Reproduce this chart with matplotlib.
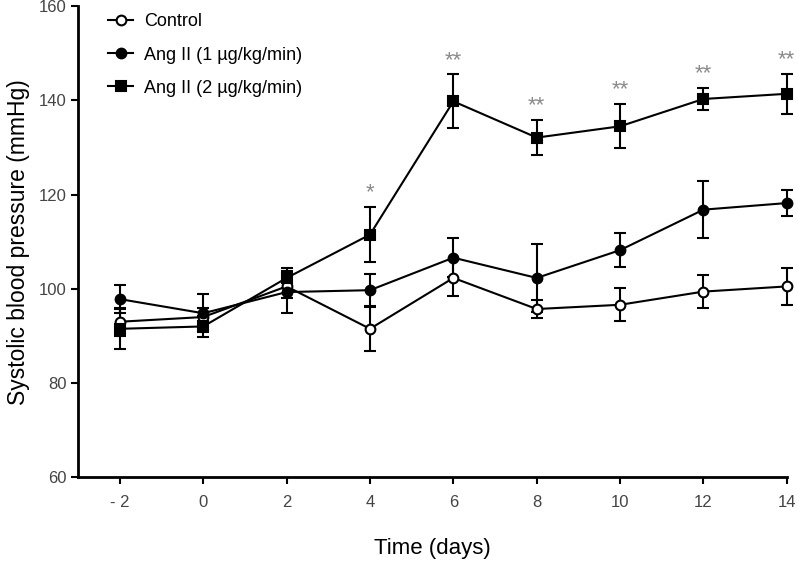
import numpy as np
import matplotlib.pyplot as plt
from matplotlib.lines import Line2D

plt.rcParams['font.family'] = ['Liberation Sans', 'DejaVu Sans']

# Dias y valores (mmHg)
days = [-2, 0, 2, 4, 6, 8, 10, 12, 14]

control = [93.0, 94.0, 100.5, 91.5, 102.3, 95.7, 96.6, 99.4, 100.5]
control_err = [3.0, 2.0, 2.5, 4.8, 3.8, 2.0, 3.5, 3.5, 4.0]

ang1 = [97.8, 94.8, 99.3, 99.7, 106.6, 102.3, 108.2, 116.8, 118.2]
ang1_err = [3.0, 4.0, 4.5, 3.5, 4.2, 7.3, 3.6, 6.0, 2.8]

ang2 = [91.5, 92.0, 102.3, 111.5, 139.8, 132.1, 134.5, 140.3, 141.4]
ang2_err = [4.2, 2.3, 2.2, 5.8, 5.7, 3.8, 4.7, 2.3, 4.2]

# Significancia sobre la serie Ang II (2)
sig_days = [4, 6, 8, 10, 12, 14]
sig_labels = ['*', '**', '**', '**', '**', '**']

fig = plt.figure(figsize=(7.98, 5.64), dpi=100)
ax = fig.add_axes([0.098, 0.154, 0.888, 0.835])

common = dict(color='black', lw=1.5, capsize=4, capthick=1.5, elinewidth=1.5, markersize=7)
series = [
    (control, control_err, 'o', 'white', 'Control'),
    (ang1, ang1_err, 'o', 'black', 'Ang II (1 µg/kg/min)'),
    (ang2, ang2_err, 's', 'black', 'Ang II (2 µg/kg/min)'),
]
handles = []
for vals, err, mk, fc, lab in series:
    ax.errorbar(days, vals, yerr=err, marker=mk, mfc=fc, mec='black', mew=1.5,
                clip_on=False, **common)
    handles.append(Line2D([], [], color='black', lw=1.5, marker=mk, mfc=fc,
                          mec='black', mew=1.5, markersize=7, label=lab))

for d, s in zip(sig_days, sig_labels):
    i = days.index(d)
    ax.text(d, ang2[i] + ang2_err[i] + 0.8, s, ha='center', va='bottom',
            color='#8a8a8a', fontsize=16)

ax.set_xlim(-3, 14)
ax.set_ylim(60, 160)
ax.set_xticks(days)
ax.set_xticklabels(['- 2'] + [str(d) for d in days[1:]])
ax.set_yticks([60, 80, 100, 120, 140, 160])

for side in ['top', 'right']:
    ax.spines[side].set_visible(False)
for side in ['left', 'bottom']:
    ax.spines[side].set_linewidth(2)
ax.tick_params(width=1.5, length=5, labelsize=12, colors='black', labelcolor='#444444')
ax.tick_params(axis='x', pad=8)

ax.set_xlabel('Time (days)', fontsize=16, labelpad=20)
ax.set_ylabel('Systolic blood pressure (mmHg)', fontsize=16.5, labelpad=6)

ax.legend(handles=handles, loc='upper left', bbox_to_anchor=(0.042, 0.985),
          frameon=False, fontsize=13, borderpad=0, borderaxespad=0,
          handlelength=1.4, labelspacing=0.9, handletextpad=0.6)

plt.savefig('out.png', dpi=100)
